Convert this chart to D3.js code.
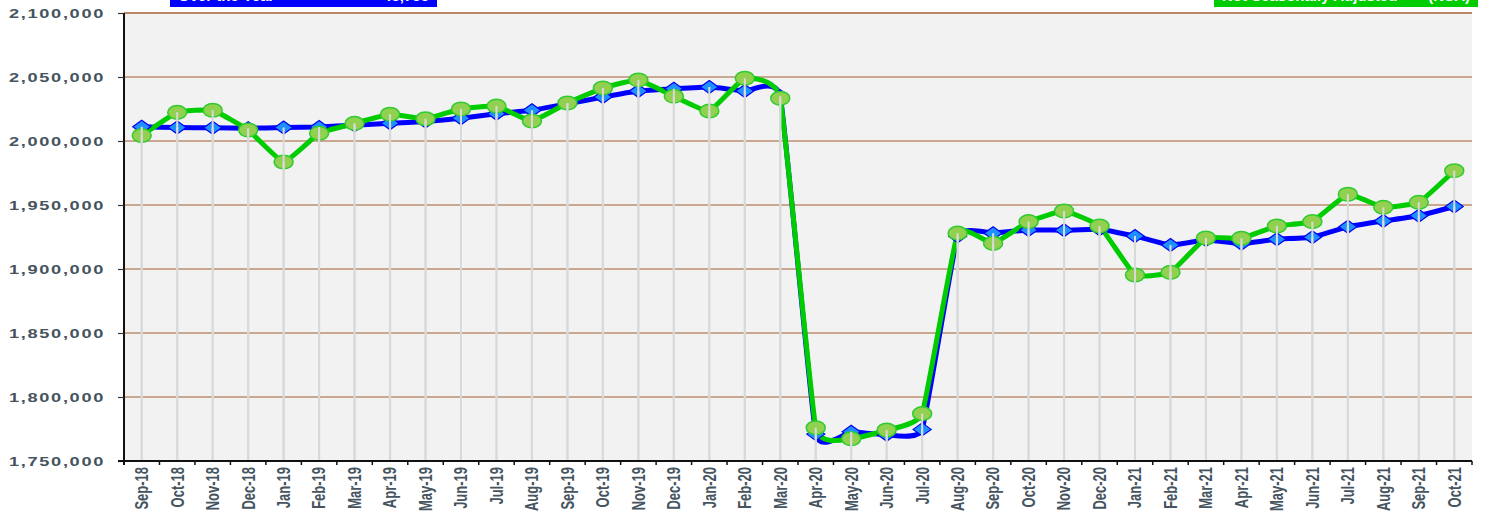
<!DOCTYPE html>
<html>
<head>
<meta charset="utf-8">
<script src="https://cdn.jsdelivr.net/npm/d3@7"></script>
<style>
  body { margin: 0; background: #ffffff; }
  svg { display: block; }
</style>
</head>
<body>
<div id="chart"></div>
<script>
// months along the bottom
var months = ["Sep-18","Oct-18","Nov-18","Dec-18","Jan-19","Feb-19","Mar-19","Apr-19","May-19","Jun-19",
              "Jul-19","Aug-19","Sep-19","Oct-19","Nov-19","Dec-19","Jan-20","Feb-20","Mar-20","Apr-20",
              "May-20","Jun-20","Jul-20","Aug-20","Sep-20","Oct-20","Nov-20","Dec-20","Jan-21","Feb-21",
              "Mar-21","Apr-21","May-21","Jun-21","Jul-21","Aug-21","Sep-21","Oct-21"];

// blue series (diamonds) - seasonally adjusted
var saValues = [2011200, 2010500, 2010300, 2010000, 2010500, 2011000, 2012300, 2013800, 2015300, 2017700,
                2021300, 2024000, 2029000, 2034300, 2039000, 2040800, 2042200, 2039000, 2035000, 1771000,
                1772800, 1770500, 1774700, 1925500, 1928000, 1930500, 1930300, 1931000, 1925800, 1918700,
                1922700, 1919800, 1923300, 1924800, 1933000, 1937500, 1941600, 1948800];

// green series (circles) - not seasonally adjusted
var nsaValues = [2004300, 2022400, 2024000, 2008600, 1983600, 2006000, 2013800, 2020900, 2017400, 2025000,
                 2027300, 2015600, 2029700, 2041400, 2047700, 2035000, 2023400, 2049000, 2033400, 1776000,
                 1767400, 1774200, 1787000, 1928000, 1920000, 1937000, 1945300, 1933600, 1895300, 1897400,
                 1924200, 1924000, 1933600, 1937000, 1958400, 1948200, 1952100, 1976800];

var yTicks = [1750000, 1800000, 1850000, 1900000, 1950000, 2000000, 2050000, 2100000];

var width = 1486, height = 519;
var plot = {left: 124, right: 1472, top: 13, bottom: 461};
var labelColor = "#45545e";

var svg = d3.select("#chart").append("svg")
            .attr("width", width).attr("height", height);

var x = d3.scaleBand().domain(months).range([plot.left, plot.right]).padding(0);
var y = d3.scaleLinear().domain([1750000, 2100000]).range([plot.bottom, plot.top]);
var cx = function(m) { return x(m) + x.bandwidth() / 2; };

// plot background
svg.append("rect")
   .attr("x", plot.left).attr("y", plot.top)
   .attr("width", plot.right - plot.left).attr("height", plot.bottom - plot.top)
   .attr("fill", "#f2f2f2");

// gridlines
svg.append("g").selectAll("line")
   .data(yTicks.filter(function(d) { return d > 1750000; }))
   .enter().append("line")
   .attr("x1", plot.left).attr("x2", plot.right)
   .attr("y1", function(d) { return y(d); }).attr("y2", function(d) { return y(d); })
   .attr("stroke", function(d) { return d == 2100000 ? "#a8623a" : "#bc8f6f"; })
   .attr("stroke-width", 1.6);

// legend boxes (cut off at the top edge, as in the source)
var legends = [
  {x: 170, w: 267, fill: "#0000ff", left: "Over the Year", right: "+ 45,755"},
  {x: 1214, w: 264, fill: "#00cc00", left: "Not Seasonally Adjusted", right: "(NSA)"}
];
legends.forEach(function(l) {
  svg.append("rect").attr("x", l.x).attr("y", -10).attr("width", l.w).attr("height", 17).attr("fill", l.fill);
  svg.append("text").attr("x", l.x + 8).attr("y", 1).attr("fill", "white")
     .style("font", "bold 15px 'Liberation Sans', Arial, sans-serif").text(l.left);
  svg.append("text").attr("x", l.x + l.w - 8).attr("y", 1).attr("fill", "white")
     .attr("text-anchor", "end")
     .style("font", "bold 15px 'Liberation Sans', Arial, sans-serif").text(l.right);
});

// lines
var line = d3.line()
             .x(function(d, i) { return cx(months[i]); })
             .y(function(d) { return y(d); })
             .curve(d3.curveCardinal.tension(0.65));

svg.append("path").datum(saValues)
   .attr("d", line).attr("fill", "none")
   .attr("stroke", "#0000ff").attr("stroke-width", 5).attr("stroke-linejoin", "round");

svg.append("path").datum(nsaValues)
   .attr("d", line).attr("fill", "none")
   .attr("stroke", "#00cc00").attr("stroke-width", 5).attr("stroke-linejoin", "round");

// markers: diamonds for blue, circles for green
svg.append("g").selectAll("path")
   .data(saValues).enter().append("path")
   .attr("d", function(d, i) {
     var px = cx(months[i]), py = y(d);
     return "M" + (px - 9) + "," + py + "L" + px + "," + (py - 6.5) + "L" + (px + 9) + "," + py + "L" + px + "," + (py + 6.5) + "Z";
   })
   .attr("fill", "#1e90ff").attr("stroke", "#0000ee").attr("stroke-width", 1.2);

svg.append("g").selectAll("ellipse")
   .data(nsaValues).enter().append("ellipse")
   .attr("cx", function(d, i) { return cx(months[i]); })
   .attr("cy", function(d) { return y(d); })
   .attr("rx", 9.5).attr("ry", 6.8)
   .attr("fill", "#92d050").attr("stroke", "#2ecc2e").attr("stroke-width", 1.5);

// drop lines from each point to the bottom
[saValues, nsaValues].forEach(function(vals) {
  svg.append("g").selectAll("line")
     .data(vals).enter().append("line")
     .attr("x1", function(d, i) { return cx(months[i]); })
     .attr("x2", function(d, i) { return cx(months[i]); })
     .attr("y1", function(d) { return y(d); })
     .attr("y2", plot.bottom)
     .attr("stroke", "#d9d9d9").attr("stroke-width", 2);
});

// y axis
var yAxis = svg.append("g")
   .attr("transform", "translate(" + plot.left + ",0)")
   .call(d3.axisLeft(y).tickValues(yTicks).tickSize(6).tickSizeOuter(0).tickFormat(d3.format(",")));
yAxis.select(".domain").attr("stroke", "#111").attr("stroke-width", 2)
     .attr("d", "M0," + plot.top + "V" + (plot.bottom + 4));
yAxis.selectAll(".tick line").attr("stroke", "#333").attr("stroke-width", 1.2);
yAxis.selectAll(".tick text")
     .attr("x", 0)
     .attr("transform", "translate(-19,0) scale(1.4,1)")
     .attr("fill", labelColor)
     .style("font", "bold 13px 'Liberation Sans', Arial, sans-serif")
     .style("letter-spacing", "1.2px");

// x axis
svg.append("line")
   .attr("x1", plot.left - 6).attr("x2", plot.right)
   .attr("y1", plot.bottom).attr("y2", plot.bottom)
   .attr("stroke", "#111").attr("stroke-width", 2);

svg.append("g").selectAll("line")
   .data(months.map(function(m) { return x(m); }).concat([plot.right]))
   .enter().append("line")
   .attr("x1", function(d) { return d; }).attr("x2", function(d) { return d; })
   .attr("y1", plot.bottom).attr("y2", plot.bottom + 4)
   .attr("stroke", "#111").attr("stroke-width", 1.5);

svg.append("g").selectAll("text")
   .data(months).enter().append("text")
   .attr("transform", function(m) { return "translate(" + cx(m) + "," + (plot.bottom + 6) + ") scale(1.4,1) rotate(-90)"; })
   .attr("text-anchor", "end")
   .attr("dy", "0.35em")
   .attr("fill", labelColor)
   .style("font", "bold 13px 'Liberation Sans', Arial, sans-serif")
   .text(function(m) { return m; });
</script>
</body>
</html>
